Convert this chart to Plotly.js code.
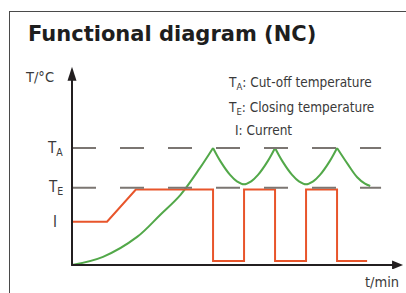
<!DOCTYPE html>
<html>
<head>
<meta charset="utf-8">
<script src="https://cdn.plot.ly/plotly-3.0.1.min.js"></script>
<style>
  html, body { margin: 0; padding: 0; background: #ffffff; }
  #wrap { position: relative; width: 406px; height: 293px; overflow: hidden; }
  #frame { position: absolute; left: 9px; top: 11px; width: 400px; height: 300px;
           border-left: 1.5px solid #4a4a4a; border-top: 1.5px solid #4a4a4a; }
  #chart { position: absolute; left: 0; top: 0; width: 406px; height: 293px; }
</style>
</head>
<body>
<div id="wrap">
  <div id="frame"></div>
  <div id="chart"></div>
</div>
<script>
// ---- data (time in minutes-units, temperature in relative units) ----
const greenTime = [0, 1.0, 2.1, 2.85, 3.5, 4.13, 4.55, null,
                   4.55, 4.78, 5.1, 5.32, 5.55, 5.78, 6.0, 6.32, 6.55, null,
                   6.55, 6.78, 7.1, 7.32, 7.55, 7.78, 8.0, 8.32, 8.55, null,
                   8.55, 8.9, 9.2, 9.45, 9.62];
const greenTemp = [0, 7, 24, 43, 60, 83, 100, null,
                   100, 89, 77, 71.5, 69, 71.5, 77, 89, 100, null,
                   100, 89, 77, 71.5, 69, 71.5, 77, 89, 100, null,
                   100, 86, 75, 69.5, 67.5];

const redTime = [0, 1.13, 2.06, 4.55, 4.55, 5.55, 5.55, 6.55, 6.55, 7.55, 7.55, 8.55, 8.55, 9.52];
const redLevel = [37, 37, 64.5, 64.5, 3.4, 3.4, 64.5, 64.5, 3.4, 3.4, 64.5, 64.5, 3.4, 3.4];

const refTime = [0, 9.97];
const tempA = 100;   // cut-off temperature
const tempE = 66;    // closing temperature
const currentLevel = 37;

const yLabelVals = [tempA, tempE, currentLevel];
const yLabelText = ['T<sub>A</sub>', 'T<sub>E</sub>', 'I'];

const legendLines = ['T<sub>A</sub>: Cut-off temperature',
                     'T<sub>E</sub>: Closing temperature',
                     'I: Current'];

const titleText = 'Functional diagram (NC)';
const yAxisLabel = 'T/°C';
const xAxisLabel = 't/min';

// ---- styles ----
const narrow = '"Liberation Sans Narrow", "DejaVu Sans Condensed", "Roboto Condensed", sans-serif';
const textColor = '#3a3a3a';
const axisColor = '#231f20';
const dashColor = '#7b7672';
const redColor = '#e8552b';
const greenColor = '#52a849';

const xMax = 10.68;
const yMax = 169.5;

const traces = [
  { x: greenTime, y: greenTemp, mode: 'lines', connectgaps: false,
    line: { color: greenColor, width: 2, shape: 'spline', smoothing: 1 }, hoverinfo: 'skip' },
  { x: redTime, y: redLevel, mode: 'lines',
    line: { color: redColor, width: 2 }, hoverinfo: 'skip' },
  { x: refTime, y: [tempA, tempA], mode: 'lines',
    line: { color: dashColor, width: 2, dash: '24px,24px' }, hoverinfo: 'skip' },
  { x: refTime, y: [tempE, tempE], mode: 'lines',
    line: { color: dashColor, width: 2, dash: '24px,24px' }, hoverinfo: 'skip' }
];

const annotations = [];
yLabelVals.forEach(function (v, i) {
  annotations.push({ x: -0.02, y: v, xref: 'paper', yref: 'y', text: yLabelText[i],
    showarrow: false, xanchor: 'center', yanchor: 'middle',
    font: { family: narrow, size: 15, color: textColor } });
});
const legendX = [4.96, 4.96, 5.2];
const legendY = [155.5, 134.5, 115.5];
legendLines.forEach(function (t, i) {
  annotations.push({ x: legendX[i], y: legendY[i], xref: 'x', yref: 'y', text: t,
    showarrow: false, xanchor: 'left', yanchor: 'middle',
    font: { family: narrow, size: 13.5, color: textColor } });
});
annotations.push({ x: -0.066, y: 160.5, xref: 'paper', yref: 'y', text: yAxisLabel, showarrow: false,
  xanchor: 'center', yanchor: 'middle', font: { family: narrow, size: 14.5, color: textColor } });
annotations.push({ x: 10.0, y: -0.063, xref: 'x', yref: 'paper', text: xAxisLabel, showarrow: false,
  xanchor: 'center', yanchor: 'middle', font: { family: narrow, size: 14.5, color: textColor } });

const shapes = [
  { type: 'line', xref: 'x', yref: 'y', x0: -0.03, y0: 0, x1: xMax - 0.3, y1: 0,
    line: { color: axisColor, width: 2 } },
  { type: 'line', xref: 'x', yref: 'y', x0: 0, y0: 0, x1: 0, y1: yMax - 8,
    line: { color: axisColor, width: 2 } },
  { type: 'path', xref: 'x', yref: 'y', xsizemode: 'pixel', ysizemode: 'pixel',
    xanchor: 0, yanchor: yMax, path: 'M0,0 L-4.5,-14 L4.5,-14 Z',
    fillcolor: axisColor, line: { width: 0 } },
  { type: 'path', xref: 'x', yref: 'y', xsizemode: 'pixel', ysizemode: 'pixel',
    xanchor: xMax, yanchor: 0, path: 'M0,0 L-11,4.5 L-11,-4.5 Z',
    fillcolor: axisColor, line: { width: 0 } }
];

const layout = {
  width: 406, height: 293,
  margin: { l: 62, r: 2, t: 62, b: 24, pad: 0 },
  paper_bgcolor: 'rgba(0,0,0,0)', plot_bgcolor: 'rgba(0,0,0,0)',
  showlegend: false,
  title: { text: '<b>' + titleText + '</b>', xref: 'container', yref: 'container',
    x: 28 / 406, xanchor: 'left', y: 1 - 34 / 293, yanchor: 'middle',
    font: { family: '"DejaVu Sans", sans-serif', size: 21, color: '#1e1e1e' } },
  xaxis: { range: [-10 / 31, 332 / 31], visible: false, fixedrange: true },
  yaxis: { range: [-4 / 1.17, 203 / 1.17], visible: false, fixedrange: true },
  shapes: shapes,
  annotations: annotations
};

Plotly.newPlot('chart', traces, layout, { staticPlot: true, displayModeBar: false });
</script>
</body>
</html>
